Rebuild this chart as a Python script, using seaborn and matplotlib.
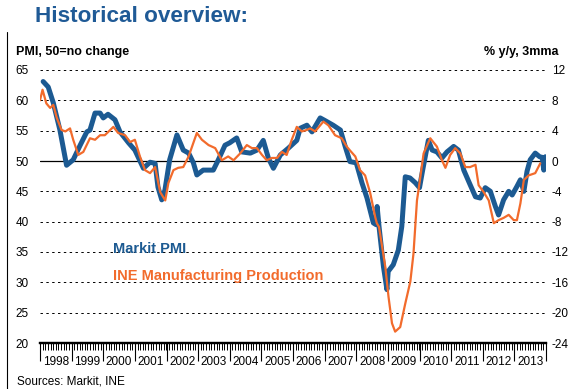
import numpy as np
import pandas as pd
import matplotlib
matplotlib.use("Agg")
import matplotlib.pyplot as plt
from matplotlib.lines import Line2D
import seaborn as sns

# ---------------- data ----------------
pmi_t = [1998.10, 1998.26, 1998.42, 1998.63, 1998.84, 1999.05, 1999.27, 1999.48, 1999.58,
         1999.74, 1999.90, 2000.00, 2000.15, 2000.37, 2000.53, 2000.80, 2001.00, 2001.27,
         2001.48, 2001.64, 2001.73, 2001.85, 2001.95, 2002.10, 2002.33, 2002.53, 2002.70,
         2002.85, 2002.96, 2003.16, 2003.48, 2003.64, 2003.85, 2004.00, 2004.22, 2004.38,
         2004.65, 2004.86, 2005.06, 2005.22, 2005.38, 2005.60, 2005.85, 2006.12, 2006.23,
         2006.44, 2006.60, 2006.86, 2007.00, 2007.27, 2007.50, 2007.65, 2007.80, 2008.00,
         2008.18, 2008.34, 2008.54, 2008.63, 2008.66, 2008.72, 2008.86, 2008.97, 2009.01,
         2009.17, 2009.33, 2009.44, 2009.55, 2009.70, 2009.87, 2010.00, 2010.10, 2010.28,
         2010.40, 2010.55, 2010.71, 2010.87, 2011.08, 2011.23, 2011.40, 2011.60, 2011.77,
         2011.92, 2012.08, 2012.24, 2012.40, 2012.50, 2012.66, 2012.82, 2012.93, 2013.08,
         2013.19, 2013.30, 2013.40, 2013.50, 2013.66, 2013.80, 2013.88, 2013.93, 2013.98]
pmi_v = [63.1, 62.2, 59.6, 55.1, 49.3, 50.2, 52.6, 54.8, 55.1,
         57.9, 57.9, 57.1, 57.7, 56.8, 54.8, 53.0, 51.8, 48.8,
         49.8, 49.6, 45.7, 43.6, 45.2, 50.2, 54.3, 51.8, 51.3,
         49.7, 47.7, 48.5, 48.5, 50.2, 52.6, 53.0, 53.8, 51.5,
         51.3, 51.8, 53.4, 50.5, 48.8, 51.0, 52.1, 53.4, 55.4,
         55.9, 54.8, 57.1, 56.7, 55.9, 55.1, 52.4, 49.9, 49.7,
         46.4, 43.9, 39.8, 39.5, 42.5, 39.2, 32.6, 28.8, 31.8,
         32.9, 35.3, 39.2, 47.4, 47.2, 46.4, 45.6, 48.5, 53.4,
         51.8, 51.5, 50.5, 51.5, 52.4, 51.8, 48.5, 46.1, 44.1,
         43.9, 45.6, 45.0, 42.5, 41.1, 43.6, 45.0, 44.4, 45.8,
         46.9, 45.0, 48.3, 50.2, 51.3, 50.7, 50.6, 48.5, 50.7]

ine_t = [1998.00, 1998.08, 1998.20, 1998.32, 1998.42, 1998.53, 1998.68, 1998.80, 1998.95,
         1999.05, 1999.21, 1999.37, 1999.58, 1999.74, 1999.90, 2000.05, 2000.32, 2000.47,
         2000.69, 2000.85, 2001.00, 2001.16, 2001.32, 2001.48, 2001.64, 2001.80, 2001.96,
         2002.06, 2002.22, 2002.37, 2002.53, 2002.70, 2002.85, 2002.96, 2003.12, 2003.33,
         2003.54, 2003.75, 2003.95, 2004.12, 2004.33, 2004.54, 2004.70, 2004.86, 2005.02,
         2005.17, 2005.33, 2005.50, 2005.65, 2005.80, 2005.96, 2006.12, 2006.28, 2006.44,
         2006.54, 2006.70, 2006.96, 2007.12, 2007.33, 2007.54, 2007.70, 2007.80, 2007.97,
         2008.12, 2008.28, 2008.44, 2008.60, 2008.65, 2008.72, 2008.92, 2009.02, 2009.13,
         2009.23, 2009.39, 2009.55, 2009.71, 2009.81, 2009.92, 2009.97, 2010.13, 2010.34,
         2010.55, 2010.71, 2010.82, 2010.97, 2011.13, 2011.29, 2011.45, 2011.60, 2011.77,
         2011.87, 2012.03, 2012.19, 2012.35, 2012.50, 2012.66, 2012.82, 2012.98, 2013.08,
         2013.19, 2013.30, 2013.45, 2013.66, 2013.82]
ine_v = [8.0, 9.4, 7.6, 7.0, 7.4, 5.7, 4.1, 3.9, 4.3,
         2.8, 0.8, 1.2, 3.0, 2.8, 3.4, 3.4, 4.5, 3.7,
         3.4, 2.5, 2.8, 0.6, -1.2, -1.6, -0.8, -4.1, -5.2,
         -2.9, -1.2, -0.9, -0.8, 0.6, 2.4, 3.7, 2.8, 2.1,
         1.7, 0.1, 0.6, 0.1, 1.0, 2.1, 1.7, 1.7, 0.8,
         0.1, 0.4, 0.4, 1.2, 0.8, 2.8, 4.5, 3.9, 4.1,
         4.3, 3.9, 5.2, 4.7, 3.4, 3.0, 1.9, 1.4, 0.6,
         -1.2, -1.9, -4.2, -7.4, -8.2, -8.7, -14.0, -17.9, -21.4,
         -22.5, -21.9, -18.8, -15.9, -12.2, -5.2, -3.8, 1.0, 3.0,
         1.9, 0.1, -0.9, 0.8, 1.7, 1.0, -0.8, -0.8, -0.5,
         -3.2, -4.1, -5.2, -8.2, -7.8, -7.5, -7.1, -7.8, -7.8,
         -5.6, -2.5, -1.9, -1.6, -0.3]

years = list(range(1998, 2014))
year_labels = [str(y) for y in years]
left_ticks = [20, 25, 30, 35, 40, 45, 50, 55, 60, 65]
right_ticks = [-24, -20, -16, -12, -8, -4, 0, 4, 8, 12]
right_labels = [str(v) for v in right_ticks]

BLUE = "#1c5a92"
ORANGE = "#f26b2c"
TITLE_BLUE = "#1f5a96"

# ---------------- style ----------------
sns.set_theme(style="white")
plt.rcParams["font.family"] = ["Liberation Sans", "DejaVu Sans"]

W, H = 569, 389
fig = plt.figure(figsize=(W / 100, H / 100), dpi=100)
ax = fig.add_axes([40 / W, 1 - 343 / H, (546 - 40) / W, (343 - 70) / H])
ax2 = ax.twinx()

df_pmi = pd.DataFrame({"t": pmi_t, "v": pmi_v})
df_ine = pd.DataFrame({"t": ine_t, "v": ine_v})

sns.lineplot(data=df_pmi, x="t", y="v", ax=ax, color=BLUE, linewidth=3.6,
             estimator=None, solid_joinstyle="round", solid_capstyle="round")
sns.lineplot(data=df_ine, x="t", y="v", ax=ax2, color=ORANGE, linewidth=1.6,
             estimator=None, solid_joinstyle="round")

ax.set_xlim(1998, 2014)
ax.set_ylim(20, 65)
ax2.set_ylim(-24, 12)
ax.set_xlabel("")
ax.set_ylabel("")
ax2.set_ylabel("")

# gridlines
ax.set_yticks(left_ticks, labels=[str(v) for v in left_ticks])
ax.grid(axis="y", linestyle=(0, (2.5, 3.5)), color="black", linewidth=0.7)
ax.grid(axis="x", visible=False)
ax.axhline(50, color="black", linewidth=0.9, zorder=1)
ax2.grid(False)
ax2.set_yticks(right_ticks, labels=right_labels)

for a in (ax, ax2):
    for s in ("top", "left", "right"):
        a.spines[s].set_visible(False)
    a.spines["bottom"].set_visible(False)
ax.spines["bottom"].set_visible(True)
ax.spines["bottom"].set_color("black")
ax.spines["bottom"].set_linewidth(1.6)

ax.tick_params(axis="y", which="both", length=0, pad=8, labelsize=8.5, colors="black")
ax2.tick_params(axis="y", which="both", length=0, pad=4, labelsize=8.5, colors="black")

# x axis: labels centred in each year, monthly minor ticks, long year ticks
ax.set_xticks([y + 0.5 for y in years], labels=year_labels)
ax.set_xticks(np.arange(1998, 2014 + 1e-9, 1 / 12), minor=True)
ax.xaxis.remove_overlapping_locs = False
ax.tick_params(axis="x", which="major", length=0, pad=9.5, labelsize=8.5, colors="black")
ax.tick_params(axis="x", which="minor", bottom=True, length=5, width=0.7,
               direction="out", color="black")

sec = ax.secondary_xaxis("bottom")
sec.set_xticks(years + [2014], labels=[""] * (len(years) + 1))
sec.tick_params(axis="x", length=13, width=0.8, direction="out", color="black")
sec.spines["bottom"].set_linewidth(1.6)
sec.spines["bottom"].set_color("black")

# series labels
ax.text(113 / W, 1 - 253 / H, "Markit PMI", transform=fig.transFigure, color=BLUE,
        fontsize=10.5, fontweight="bold", va="baseline", ha="left")
ax.text(113 / W, 1 - 280 / H, "INE Manufacturing Production", transform=fig.transFigure,
        color=ORANGE, fontsize=10.5, fontweight="bold", va="baseline", ha="left")

# titles and notes
fig.text(35 / W, 1 - 22 / H, "Historical overview:", color=TITLE_BLUE, fontsize=16.2,
         fontweight="bold", va="baseline", ha="left")
fig.text(16 / W, 1 - 55 / H, "PMI, 50=no change", color="black", fontsize=9,
         fontweight="bold", va="baseline", ha="left")
fig.text(559 / W, 1 - 55 / H, "% y/y, 3mma", color="black", fontsize=9,
         fontweight="bold", va="baseline", ha="right")
fig.text(17 / W, 1 - 385 / H, "Sources: Markit, INE", color="black", fontsize=8.5,
         va="baseline", ha="left")

# slide frame on the left
fig.add_artist(Line2D([6.5 / W, 6.5 / W], [0, 1 - 32 / H], color="black", linewidth=0.8,
                      transform=fig.transFigure))

fig.savefig("out.png", dpi=100)
